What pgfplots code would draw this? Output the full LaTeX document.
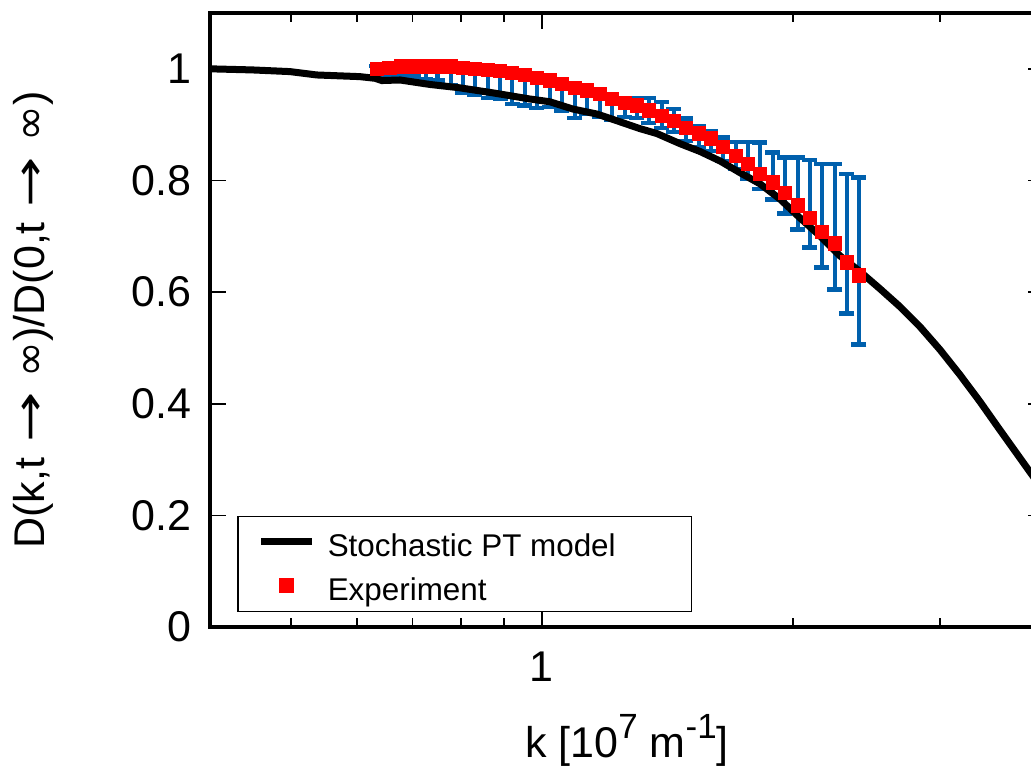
\documentclass[border=0pt]{standalone}
\usepackage{pgfplots}
\usepackage{pgfplotstable}
\pgfplotsset{compat=1.18}
\usepackage{fontspec}
\setmainfont{Liberation Sans}
\newfontfamily\dejavu{DejaVu Sans}
\usetikzlibrary{calc}
\definecolor{mblue}{HTML}{0060AD}

\pgfplotsset{
  lineleg/.style={legend image code/.code={\draw[##1] (0pt,0pt) -- (25.5pt,0pt);}},
  markleg/.style={legend image code/.code={\draw[##1] plot coordinates {(12.75pt,0pt)};}},
}

\pgfplotstableread{
k      y      lo     hi
0.634  1.000  0.987  1.005
0.656  1.002  0.987  1.007
0.678  1.004  0.986  1.009
0.702  1.004  0.986  1.009
0.726  1.004  0.982  1.009
0.750  1.004  0.979  1.009
0.778  1.004  0.970  1.009
0.804  1.002  0.957  1.007
0.831  1.000  0.953  1.005
0.862  0.998  0.948  1.003
0.891  0.996  0.946  1.001
0.921  0.993  0.937  0.998
0.954  0.989  0.934  0.994
0.986  0.984  0.930  0.989
1.022  0.979  0.932  0.984
1.057  0.973  0.925  0.978
1.095  0.966  0.912  0.971
1.132  0.961  0.919  0.966
1.174  0.955  0.914  0.960
1.213  0.946  0.909  0.951
1.257  0.939  0.914  0.946
1.300  0.934  0.912  0.948
1.344  0.925  0.903  0.948
1.393  0.916  0.894  0.941
1.440  0.907  0.887  0.928
1.488  0.894  0.871  0.911
1.542  0.884  0.860  0.898
1.594  0.875  0.853  0.889
1.648  0.860  0.835  0.877
1.708  0.844  0.821  0.869
1.766  0.830  0.803  0.869
1.826  0.812  0.785  0.868
1.892  0.796  0.766  0.850
1.956  0.778  0.741  0.841
2.027  0.755  0.712  0.841
2.096  0.733  0.680  0.837
2.166  0.708  0.644  0.830
2.245  0.687  0.605  0.830
2.321  0.653  0.562  0.812
2.399  0.630  0.506  0.805
}\expdata

\pgfplotstableread{
k      y
0.400  1.000
0.450  0.998
0.499  0.995
0.537  0.989
0.605  0.986
0.631  0.983
0.643  0.979
0.676  0.980
0.734  0.972
0.797  0.966
0.873  0.957
0.967  0.946
1.022  0.941
1.089  0.928
1.164  0.919
1.230  0.907
1.310  0.893
1.374  0.884
1.464  0.866
1.547  0.852
1.635  0.835
1.728  0.814
1.826  0.794
1.929  0.767
2.039  0.733
2.154  0.701
2.277  0.665
2.406  0.637
2.543  0.606
2.687  0.574
2.840  0.538
3.001  0.497
3.171  0.452
3.351  0.404
3.542  0.353
3.847  0.278
4.000  0.243
}\modeldata

\newcommand\sups[1]{\raisebox{0.42em}{\fontsize{17.5}{17.5}\selectfont #1}}
\newcommand\arr{\hspace{0.35em}\scalebox{1.4}[1]{\dejavu →}\hspace{0.35em}}

\begin{document}
\begin{tikzpicture}
\begin{axis}[
  xmode=log, xmin=0.4, xmax=4, ymin=0, ymax=1.1,
  scale only axis, width=417pt, height=307pt,
  axis line style={line width=2pt},
  xtick={1}, xticklabels={1},
  minor xtick={0.5,0.6,0.7,0.8,0.9,2,3},
  ytick={0,0.2,0.4,0.6,0.8,1}, yticklabels={0,0.2,0.4,0.6,0.8,1},
  tick align=inside, major tick length=8pt, minor tick length=4.5pt,
  every tick/.style={black, line width=0.8pt},
  tick label style={font=\fontsize{21.5}{21.5}\selectfont},
  xticklabel style={yshift=-9pt},
  yticklabel style={xshift=-6pt},
  xlabel={k [10\sups{7} m\sups{-1}]},
  xlabel style={font=\fontsize{21.5}{21.5}\selectfont, at={(axis description cs:0.5,-0.2117)}, anchor=base},
  ylabel={D(k,t\arr{\dejavu ∞})/D(0,t\arr{\dejavu ∞})},
  ylabel style={font=\fontsize{21.5}{21.5}\selectfont, at={(axis description cs:-0.198,0.5)}, anchor=base},
  legend style={at={(axis description cs:0.0324,0.0244)}, anchor=south west,
    draw=black, line width=0.75pt, fill=white,
    font=\fontsize{15.7}{18}\selectfont,
    nodes={inner sep=0pt, text height=17pt, text depth=2.5pt},
    inner xsep=10pt, inner ysep=3pt, row sep=2.5pt,
    /tikz/column 1/.style={column sep=6pt}},
  legend cell align=left,
]
\addplot[forget plot, mblue, only marks, mark=none,
  error bars/.cd, y dir=both, y explicit,
  error bar style={mblue, line width=2.2pt},
  error mark options={rotate=90, mblue, line width=2.2pt, mark size=3.75pt}]
  table[x=k, y=y, y error plus expr=\thisrow{hi}-\thisrow{y}, y error minus expr=\thisrow{y}-\thisrow{lo}] {\expdata};
\addplot[black, line width=3.5pt, mark=none, lineleg]
  table[x=k, y=y] {\modeldata};
\addlegendentry{Stochastic PT model\hspace*{28pt}}
\addplot[only marks, mark=square*, mark size=3.4pt, color=red, draw=red, fill=red, markleg]
  table[x=k, y=y] {\expdata};
\addlegendentry{Experiment}
\end{axis}
\pgfresetboundingbox
\path[use as bounding box] ($(current axis.south west)+(-105pt,-70pt)$) rectangle ($(current axis.north west)+(410.5pt,6.5pt)$);
\end{tikzpicture}
\end{document}
